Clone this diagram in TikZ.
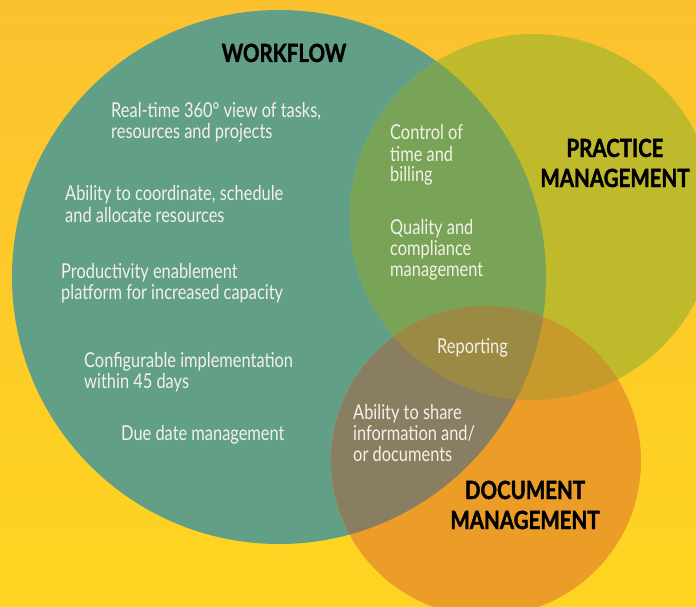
\documentclass[tikz,border=0pt]{standalone}
\usepackage{fontspec}
\setmainfont{Lato}[FakeStretch=0.80]
\newfontfamily\headfont{Lato}[FakeStretch=0.82, BoldFeatures={FakeBold=1.5}]
\definecolor{bgtop}{HTML}{FCC12F}
\definecolor{bgbot}{HTML}{FED521}
\definecolor{wf}{HTML}{629F87}
\definecolor{pm}{HTML}{BFBA2C}
\definecolor{dm}{HTML}{EB9D27}
\definecolor{wfpm}{HTML}{79A457}
\definecolor{wfdm}{HTML}{8A7E62}
\definecolor{pmdm}{HTML}{C69A2B}
\definecolor{alldm}{HTML}{9B8A44}
\definecolor{txt}{HTML}{F4F1E8}
\tikzset{
  item/.style={anchor=base west, inner sep=0pt, align=left, text=txt,
    font=\fontsize{20.5}{21}\selectfont},
  head/.style={anchor=base, inner sep=0pt, align=center, text=black,
    font=\headfont\bfseries\fontsize{25}{30}\selectfont}
}
\begin{document}
\begin{tikzpicture}[x=1pt,y=-1pt]
\useasboundingbox (0,0) rectangle (696,607);
\shade[top color=bgtop, bottom color=bgbot] (0,0) rectangle (696,607);
\coordinate (W) at (279,277);
\coordinate (P) at (533,217);
\coordinate (D) at (486,461);
\fill[wf] (W) circle[radius=267];
\fill[pm] (P) circle[radius=183];
\fill[dm] (D) circle[radius=155];
\begin{scope}
  \clip (W) circle[radius=267];
  \fill[wfpm] (P) circle[radius=183];
  \fill[wfdm] (D) circle[radius=155];
\end{scope}
\begin{scope}
  \clip (P) circle[radius=183];
  \fill[pmdm] (D) circle[radius=155];
\end{scope}
\begin{scope}
  \clip (W) circle[radius=267];
  \clip (P) circle[radius=183];
  \fill[alldm] (D) circle[radius=155];
\end{scope}
\node[head] (hw) at (284,62) {WORKFLOW};
\node[head] (hp) at (615,187) {PRACTICE\\MANAGEMENT};
\node[head] (hd) at (525,529) {DOCUMENT\\MANAGEMENT};
\node[item] (t1) at (111,139) {Real-time 360° view of tasks,\\resources and projects};
\node[item] (t2) at (65,222) {Ability to coordinate, schedule\\and allocate resources};
\node[item] (t3) at (61,299) {Productivity enablement\\platform for increased capacity};
\node[item] (t4) at (84,388) {Configurable implementation\\within 45 days};
\node[item] (t5) at (121,440) {Due date management};
\node[item] (t6) at (390,182) {Control of\\time and\\billing};
\node[item] (t7) at (390,276) {Quality and\\compliance\\management};
\node[item] (t8) at (437,353) {Reporting};
\node[item] (t9) at (353,461) {Ability to share\\information and/\\or documents};
\end{tikzpicture}
\end{document}
